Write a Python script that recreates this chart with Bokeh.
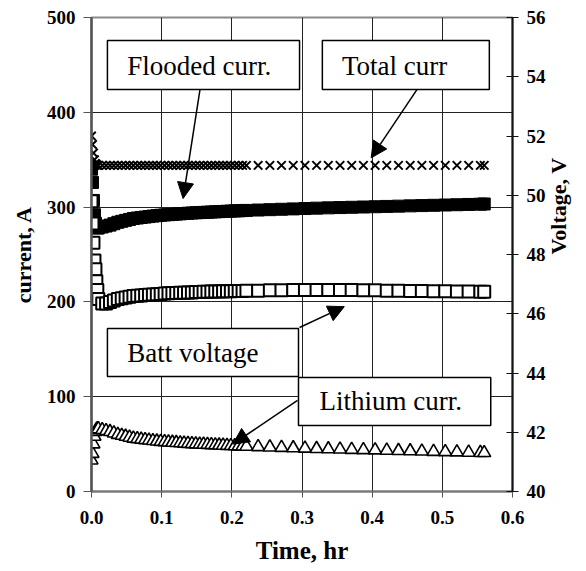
import math
from bokeh.plotting import figure
from bokeh.models import (Range1d, LinearAxis, FixedTicker, NumeralTickFormatter,
                          BoxAnnotation, Label, Arrow, NormalHead, ColumnDataSource)
from bokeh.embed import file_html
from bokeh.resources import INLINE

# ---------------- data ----------------
time_hr = [
    0.0000, 0.0014, 0.0028, 0.0042, 0.0056, 0.0069, 0.0083, 0.0097,
    0.0153, 0.0208, 0.0264, 0.0319, 0.0375, 0.0431, 0.0486, 0.0542, 0.0597, 0.0653,
    0.0708, 0.0764, 0.0819, 0.0875, 0.0931, 0.0986, 0.1042, 0.1097, 0.1153, 0.1208,
    0.1264, 0.1319, 0.1375, 0.1431, 0.1486, 0.1542, 0.1597, 0.1653, 0.1708, 0.1764,
    0.1819, 0.1875, 0.1931, 0.1986, 0.2042, 0.2097, 0.2153, 0.2208,
    0.2375, 0.2542, 0.2708, 0.2875, 0.3042, 0.3208, 0.3375, 0.3542, 0.3708, 0.3875,
    0.4042, 0.4208, 0.4375, 0.4542, 0.4708, 0.4875, 0.5042, 0.5208, 0.5375, 0.5542, 0.5597,
]

total_curr = [
    375, 366, 357, 350, 346, 345, 344, 344,
    344, 344, 344, 344, 344, 344, 344, 344, 344, 344,
    344, 344, 344, 344, 344, 344, 344, 344, 344, 344,
    344, 344, 344, 344, 344, 344, 344, 344, 344, 344,
    344, 344, 344, 344, 344, 344, 344, 344,
    344, 344, 344, 344, 344, 344, 344, 344, 344, 344,
    344, 344, 344, 344, 344, 344, 344, 344, 344, 344, 344,
]

flooded_curr = [
    340, 326, 307, 292, 283, 280, 278, 278,
    279, 280, 281, 282.5, 284, 285, 286, 287, 288, 288.5,
    289, 289.5, 290, 290.5, 291, 291.4, 291.7, 292, 292.3, 292.6,
    292.9, 293.2, 293.5, 293.8, 294, 294.2, 294.4, 294.6, 294.8, 295,
    295.2, 295.4, 295.6, 295.8, 296, 296.1, 296.3, 296.5,
    296.9, 297.3, 297.7, 298.1, 298.5, 298.9, 299.2, 299.5, 299.8, 300.1,
    300.4, 300.7, 301, 301.3, 301.6, 301.9, 302.2, 302.5, 302.8, 303.1, 303.3,
]

lithium_curr = [
    33, 40, 50, 58, 63, 65, 66, 66,
    65, 64, 63, 61.5, 60, 59, 58, 57, 56, 55.5,
    55, 54.5, 54, 53.5, 53, 52.6, 52.3, 52, 51.7, 51.4,
    51.1, 50.8, 50.5, 50.2, 50, 49.8, 49.6, 49.4, 49.2, 49,
    48.8, 48.6, 48.4, 48.2, 48, 47.9, 47.7, 47.5,
    47.1, 46.7, 46.3, 45.9, 45.5, 45.1, 44.8, 44.5, 44.2, 43.9,
    43.6, 43.3, 43, 42.7, 42.4, 42.1, 41.8, 41.5, 41.2, 40.9, 40.8,
]

batt_voltage = [
    49.8, 49.05, 48.4, 47.8, 47.5, 47.1, 46.8, 46.5,
    46.35, 46.35, 46.4, 46.45, 46.5, 46.52, 46.55, 46.57, 46.6, 46.61,
    46.62, 46.63, 46.64, 46.65, 46.66, 46.67, 46.68, 46.69, 46.7, 46.7,
    46.71, 46.71, 46.72, 46.72, 46.73, 46.73, 46.74, 46.74, 46.75, 46.75,
    46.75, 46.76, 46.76, 46.76, 46.77, 46.77, 46.77, 46.78,
    46.78, 46.79, 46.79, 46.8, 46.8, 46.8, 46.8, 46.8, 46.8, 46.79,
    46.79, 46.78, 46.78, 46.77, 46.77, 46.76, 46.76, 46.75, 46.75, 46.74, 46.74,
]

x_ticks = [0.0, 0.1, 0.2, 0.3, 0.4, 0.5, 0.6]
current_ticks = [0, 100, 200, 300, 400, 500]
voltage_ticks = [40, 42, 44, 46, 48, 50, 52, 54, 56]

x_title = "Time, hr"
left_title = "current, A"
right_title = "Voltage, V"

# ---------------- figure ----------------
FONT = "Liberation Serif"

src = ColumnDataSource(dict(t=time_hr, total=total_curr, flooded=flooded_curr,
                            lithium=lithium_curr, volt=batt_voltage))

p = figure(width=586, height=571, output_backend="svg", toolbar_location=None,
           x_range=Range1d(0, 0.6), y_range=Range1d(0, 500),
           min_border_left=91, min_border_right=72, min_border_top=17,
           min_border_bottom=80)
p.extra_y_ranges = {"volt": Range1d(40, 56)}

p.background_fill_color = "white"
p.border_fill_color = "white"
p.outline_line_color = "#8a8a8a"
p.outline_line_width = 2

# grids
p.xgrid.ticker = FixedTicker(ticks=x_ticks)
p.ygrid.ticker = FixedTicker(ticks=current_ticks)
for g in (p.xgrid, p.ygrid):
    g.grid_line_color = "#222222"
    g.grid_line_width = 1

def style_axis(ax, label, label_size, label_standoff, tick_standoff):
    ax.axis_label = label
    ax.axis_label_text_font = FONT
    ax.axis_label_text_font_style = "bold"
    ax.axis_label_text_font_size = label_size
    ax.axis_label_text_color = "black"
    ax.axis_label_standoff = label_standoff
    ax.major_label_text_font = FONT
    ax.major_label_text_font_style = "bold"
    ax.major_label_text_font_size = "19px"
    ax.major_label_text_color = "black"
    ax.major_label_standoff = tick_standoff
    ax.minor_tick_in = 0
    ax.minor_tick_out = 0

# bottom axis
xa = p.xaxis[0]
xa.ticker = FixedTicker(ticks=x_ticks)
xa.formatter = NumeralTickFormatter(format="0.0")
style_axis(xa, x_title, "25px", 10, 13)
xa.major_tick_in = 0
xa.major_tick_out = 6
xa.axis_line_color = "#777777"
xa.axis_line_width = 2
xa.major_tick_line_color = "#555555"

# left axis
ya = p.yaxis[0]
ya.ticker = FixedTicker(ticks=current_ticks)
style_axis(ya, left_title, "22px", 8, 8)
ya.major_tick_in = 0
ya.major_tick_out = 8
ya.axis_line_color = "#555555"
ya.axis_line_width = 2.5
ya.major_tick_line_color = "#555555"

# right axis
ra = LinearAxis(y_range_name="volt", ticker=FixedTicker(ticks=voltage_ticks))
style_axis(ra, right_title, "22px", 10, 8)
ra.axis_label_orientation = math.pi / 2
ra.major_tick_in = 6
ra.major_tick_out = 6
ra.axis_line_color = "#111111"
ra.axis_line_width = 2
ra.major_tick_line_color = "#111111"
p.add_layout(ra, "right")

# ---------------- series ----------------
p.scatter("t", "lithium", source=src, marker="triangle", size=13,
          fill_color="white", line_color="black", line_width=1.6)
p.scatter("t", "flooded", source=src, marker="square", size=12,
          fill_color="black", line_color="black", line_width=1)
p.scatter("t", "volt", source=src, y_range_name="volt", marker="square", size=12,
          fill_color="white", line_color="black", line_width=2)
p.scatter("t", "total", source=src, marker="x", size=12,
          line_color="black", line_width=2)

# ---------------- callout boxes ----------------
boxes = [
    # (left, right, bottom, top, text, text_x, text_y)
    (0.0227, 0.2965, 424.0, 475.7, "Flooded curr.", 0.051, 449.0),
    (0.3290, 0.5670, 424.0, 475.7, "Total curr", 0.357, 449.0),
    (0.0227, 0.2950, 121.3, 171.9, "Batt voltage", 0.051, 146.0),
    (0.2950, 0.5690, 69.6, 120.3, "Lithium curr.", 0.325, 95.0),
]
for l, r, b, t, txt, tx, ty in boxes:
    p.add_layout(BoxAnnotation(left=l, right=r, bottom=b, top=t,
                               fill_color="white", fill_alpha=1.0,
                               line_color="black", line_width=1.5,
                               line_alpha=1.0, level="annotation"))
    p.add_layout(Label(x=tx, y=ty, text=txt, text_font=FONT,
                       text_font_size="27px", text_baseline="middle",
                       text_align="left", text_color="black"))

arrows = [
    (0.1546, 424.0, 0.1305, 309.0),
    (0.4638, 424.0, 0.3986, 352.0),
    (0.2965, 173.0, 0.3603, 195.0),
    (0.2936, 96.0, 0.2014, 50.0),
]
for xs, ys, xe, ye in arrows:
    p.add_layout(Arrow(end=NormalHead(size=16, fill_color="black",
                                      line_color="black"),
                       x_start=xs, y_start=ys, x_end=xe, y_end=ye,
                       line_color="black", line_width=1.5))

open("out.html", "w").write(file_html(p, INLINE))
